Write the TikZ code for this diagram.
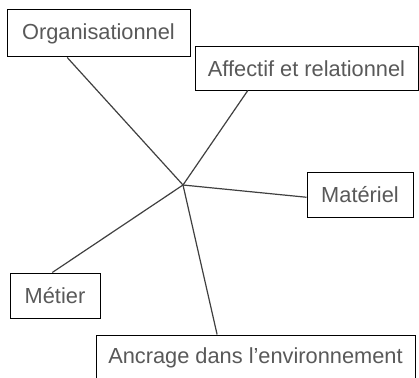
\documentclass[tikz,border=0pt]{standalone}
\usepackage{fontspec}
\setmainfont{Liberation Sans}
\usetikzlibrary{calc}
\begin{document}
\begin{tikzpicture}[x=1pt,y=-1pt,
  box/.style={draw=black,line width=1pt,fill=white,inner sep=0pt,font=\fontsize{21.8}{24}\selectfont,text=black!65},
  link/.style={draw=black!75,line width=1.2pt}]
\clip (0,0) rectangle (419,377);
\fill[white] (0,0) rectangle (419,377);
\coordinate (c) at (183,185);
\node[box,minimum width=183pt,minimum height=47pt] (org) at (98.5,33.5) {Organisationnel};
\node[box,minimum width=223pt,minimum height=43pt] (aff) at (306.5,68.5) {Affectif et relationnel};
\node[box,minimum width=106pt,minimum height=45pt] (mat) at (360,194.5) {Matériel};
\node[box,minimum width=90pt,minimum height=45pt] (met) at (55,295.5) {Métier};
\node[box,minimum width=319pt,minimum height=46pt] (anc) at (255.5,358) {Ancrage dans l\symbol{39}environnement};
\draw[link] (c) -- ($(org.south west)!0.33!(org.south east)$);
\draw[link] (c) -- ($(aff.south west)!0.238!(aff.south east)$);
\draw[link] (c) -- ($(mat.north west)!0.56!(mat.south west)$);
\draw[link] (c) -- ($(met.north west)!0.47!(met.north east)$);
\draw[link] (c) -- ($(anc.north west)!0.38!(anc.north east)$);
\end{tikzpicture}
\end{document}
